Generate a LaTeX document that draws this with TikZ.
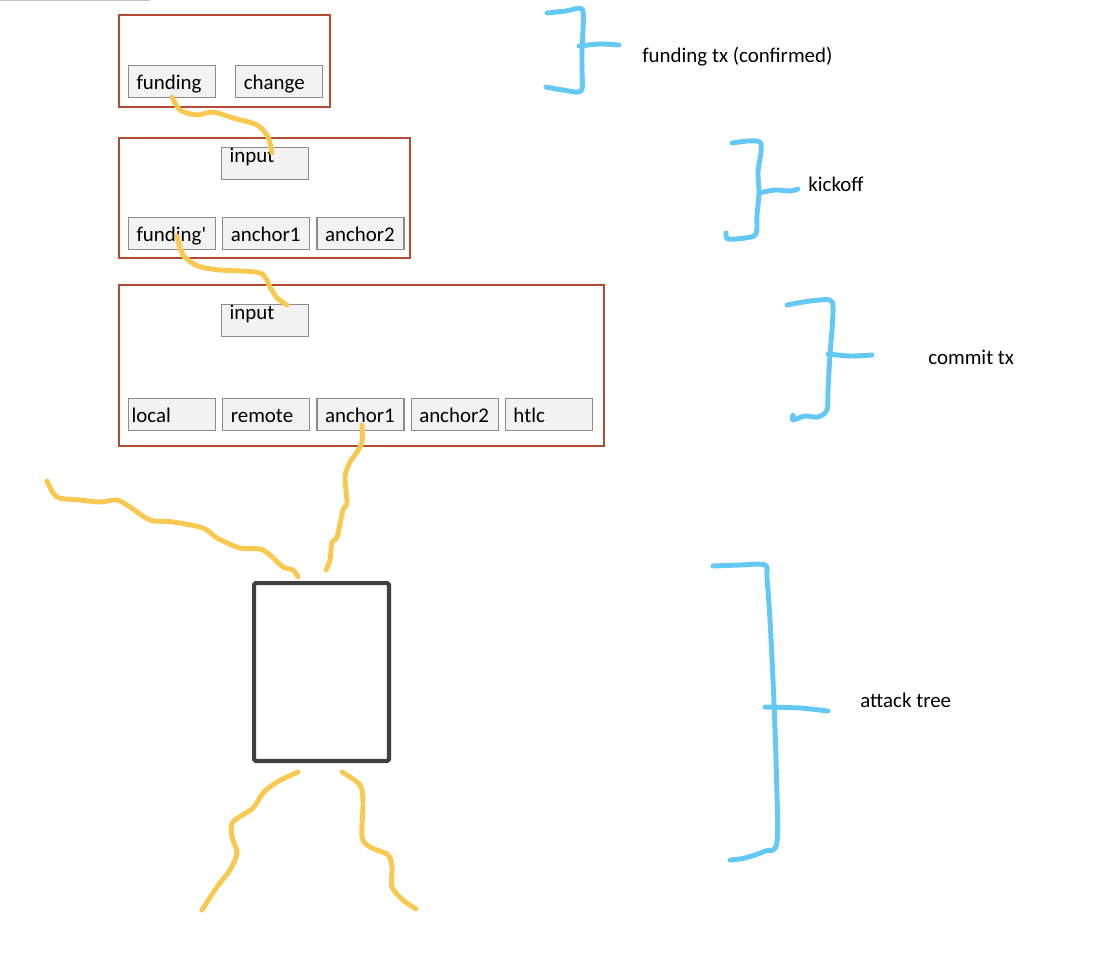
\documentclass[tikz,border=0pt]{standalone}
\usepackage{fontspec}
\setmainfont{Carlito}
\usetikzlibrary{positioning}
\definecolor{txred}{RGB}{178,74,52}
\definecolor{cellgray}{RGB}{140,140,140}
\definecolor{cellfill}{RGB}{242,242,242}
\definecolor{wireyellow}{RGB}{249,200,80}
\definecolor{braceblue}{RGB}{100,200,245}
\definecolor{atkgray}{RGB}{64,64,64}
\begin{document}
\begin{tikzpicture}[
	x=0.02cm, y=-0.02cm,
	font=\fontsize{11.9}{14}\selectfont,
	txbox/.style={draw=txred, line width=1.1pt, inner sep=0pt, anchor=north west},
	cell/.style={draw=cellgray, fill=cellfill, line width=0.7pt, minimum width=1.74cm, minimum height=0.64cm, text width=1.42cm, inner xsep=0.16cm, inner ysep=0pt, text height=0.34cm, text depth=0.04cm, align=left, anchor=north west},
	incell/.style={cell, text height=0.3cm, text depth=0.34cm},
	wire/.style={draw=wireyellow, line width=2.8pt, line cap=round, line join=round},
	brace/.style={draw=braceblue, line width=2.8pt, line cap=round, line join=round},
	lbl/.style={anchor=west, inner sep=0pt}]
	\useasboundingbox (0,0) rectangle (1104,966);
	\draw[gray!50, line width=1pt] (0,0.5) -- (150,0.5);
	\node[txbox, minimum width=4.22cm, minimum height=1.84cm] (fundtx) at (118,14) {};
	\node[cell] (fund) at (128,65) {funding};
	\node[cell, right=0.38cm of fund] (change) {change};
	\node[txbox, minimum width=5.82cm, minimum height=2.40cm] (kickoff) at (118,137) {};
	\node[incell] (kin) at (221,147) {input};
	\node[cell] (kfund) at (128,217) {funding\textquotesingle};
	\node[cell, right=0.12cm of kfund] (kanc1) {anchor1};
	\node[cell, right=0.12cm of kanc1] (kanc2) {anchor2};
	\node[txbox, minimum width=9.70cm, minimum height=3.22cm] (commit) at (118,284) {};
	\node[incell] (cin) at (221,304) {input};
	\node[cell, inner xsep=0.06cm, text width=1.62cm] (local) at (128,398) {local};
	\node[cell, right=0.12cm of local] (remote) {remote};
	\node[cell, right=0.12cm of remote] (canc1) {anchor1};
	\node[cell, right=0.12cm of canc1] (canc2) {anchor2};
	\node[cell, right=0.12cm of canc2] (htlc) {htlc};
	\node[draw=atkgray, line width=2.3pt, rounded corners=1pt, inner sep=0pt, minimum width=2.7cm, minimum height=3.56cm, anchor=north west] (attack) at (252,581) {};
	\draw[wire] plot[smooth] coordinates {(172,97) (180,110) (197,115) (213,112) (233,118) (257,125) (268,137) (272,153)};
	\draw[wire] plot[smooth] coordinates {(177,236) (183,255) (198,266) (220,270) (260,273) (270,287) (277,298) (287,305)};
	\draw[wire] plot[smooth] coordinates {(362,425) (362,442) (357,452) (350,462) (345,477) (347,503) (343,510) (337,537) (332,542) (330,560) (326,570)};
	\draw[wire] plot[smooth] coordinates {(47,481) (57,497) (80,500) (100,502) (117,500) (130,507) (150,520) (173,522) (203,528) (217,538) (240,548) (260,549) (270,555) (283,567) (293,570) (298,577)};
	\draw[wire] plot[smooth] coordinates {(298,772) (277,782) (263,793) (253,808) (233,822) (232,837) (237,853) (230,870) (217,887) (202,910)};
	\draw[wire] plot[smooth] coordinates {(342,772) (360,785) (363,803) (362,837) (370,847) (388,855) (392,867) (392,887) (403,900) (416,909)};
	\draw[brace] plot[smooth] coordinates {(547,13) (566,11) (582,9) (583,30) (582,50) (582,70) (581,91) (563,90) (546,87)};
	\draw[brace] plot[smooth] coordinates {(579,46) (600,44) (619,45)};
	\draw[brace] plot[smooth] coordinates {(732,143) (748,141) (760,142) (761,152) (758,172) (759,193) (757,215) (756,234) (745,238) (728,239) (726,233)};
	\draw[brace] plot[smooth] coordinates {(759,193) (775,190) (790,191) (798,189)};
	\draw[brace] plot[smooth] coordinates {(787,305) (810,301) (830,300) (833,308) (832,330) (830,354) (828,390) (827,410) (818,417) (805,416) (793,420) (793,415)};
	\draw[brace] plot[smooth] coordinates {(828,354) (850,356) (872,355)};
	\draw[brace] plot[smooth] coordinates {(713,566) (740,565) (765,565) (767,578) (770,620) (773,680) (776,760) (777,842) (765,851) (745,858) (730,860)};
	\draw[brace] plot[smooth] coordinates {(765,707) (800,708) (828,711)};
	\node[lbl] (lfund) at (642,57) {funding tx (confirmed)};
	\node[lbl] (lkick) at (808,184) {kickoff};
	\node[lbl] (lcommit) at (928,357) {commit tx};
	\node[lbl] (lattack) at (860,700) {attack tree};
\end{tikzpicture}
\end{document}
